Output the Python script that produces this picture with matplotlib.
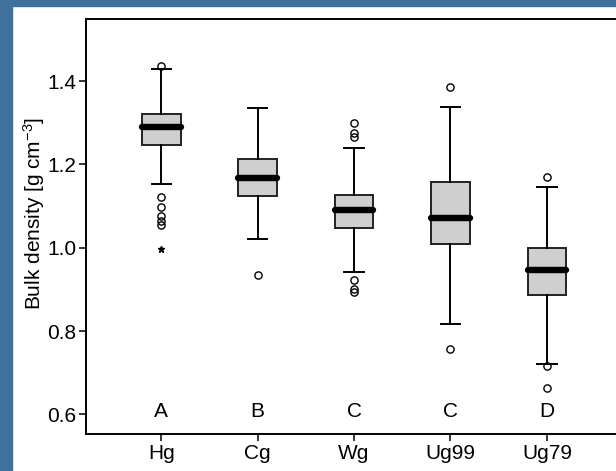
import matplotlib
matplotlib.use('Agg')
import matplotlib.pyplot as plt
from matplotlib.patches import Rectangle

groups = ['Hg', 'Cg', 'Wg', 'Ug99', 'Ug79']
letters = ['A', 'B', 'C', 'C', 'D']
q1 = [1.247, 1.124, 1.048, 1.010, 0.886]
med = [1.290, 1.167, 1.090, 1.071, 0.947]
q3 = [1.322, 1.214, 1.127, 1.159, 0.999]
whislo = [1.154, 1.020, 0.942, 0.817, 0.721]
whishi = [1.429, 1.335, 1.239, 1.337, 1.146]
outliers = [[1.437, 1.122, 1.099, 1.077, 1.064, 1.054],
            [0.934],
            [1.299, 1.275, 1.265, 0.922, 0.900, 0.893],
            [1.387, 0.758],
            [1.171, 0.716, 0.664]]
extremes = [[0.998], [], [], [], []]
yticks = [0.6, 0.8, 1.0, 1.2, 1.4]

plt.rcParams['font.family'] = ['Liberation Sans', 'DejaVu Sans']
plt.rcParams['mathtext.fontset'] = 'custom'
plt.rcParams['mathtext.rm'] = 'Liberation Sans'
plt.rcParams['mathtext.it'] = 'Liberation Sans:italic'

W, H = 616, 471
fig = plt.figure(figsize=(W / 100, H / 100), dpi=100)
fig.patch.set_facecolor('white')
blue = '#41709c'
fig.patches.append(Rectangle((0, 0), 12 / W, 1, transform=fig.transFigure, color=blue, zorder=0))
fig.patches.append(Rectangle((0, 1 - 6 / H), 1, 6 / H, transform=fig.transFigure, color=blue, zorder=0))

left_px, right_px, top_px, bot_px = 86, 815, 19, 434
ax = fig.add_axes([left_px / W, 1 - bot_px / H, (right_px - left_px) / W, (bot_px - top_px) / H])

stats = []
for i, g in enumerate(groups):
    stats.append(dict(label=g, q1=q1[i], med=med[i], q3=q3[i],
                      whislo=whislo[i], whishi=whishi[i], fliers=outliers[i]))

pos = list(range(1, len(groups) + 1))
ax.bxp(stats, positions=pos, widths=0.4, capwidths=0.2, patch_artist=True,
       boxprops=dict(facecolor='#cfcfcf', edgecolor='#222222', linewidth=1.4),
       medianprops=dict(color='black', linewidth=4.6, solid_capstyle='round'),
       whiskerprops=dict(color='black', linewidth=1.4),
       capprops=dict(color='black', linewidth=1.4),
       flierprops=dict(marker='o', markerfacecolor='none', markeredgecolor='black',
                       markersize=5.2, markeredgewidth=1.0))

for i, ex in enumerate(extremes):
    if ex:
        ax.plot([pos[i]] * len(ex), ex, linestyle='none', marker='*', color='black', markersize=5)

for i, l in enumerate(letters):
    ax.text(pos[i], 0.607, l, ha='center', va='center', fontsize=15)

ax.set_xlim(0.22, 7.78)
ax.set_ylim(0.553, 1.549)
ax.set_yticks(yticks)
ax.set_yticklabels([f'{v:.1f}' for v in yticks])
ax.set_xticks(pos)
ax.set_xticklabels(groups)
ax.tick_params(axis='both', labelsize=15, length=5, width=1.1, direction='out', pad=2)
for s in ax.spines.values():
    s.set_linewidth(1.4)

fig.text(34 / W, 1 - 213 / H, 'Bulk density [g cm$^{-3}$]', rotation=90,
         ha='center', va='center', fontsize=15)

fig.savefig('out.png', dpi=100)
